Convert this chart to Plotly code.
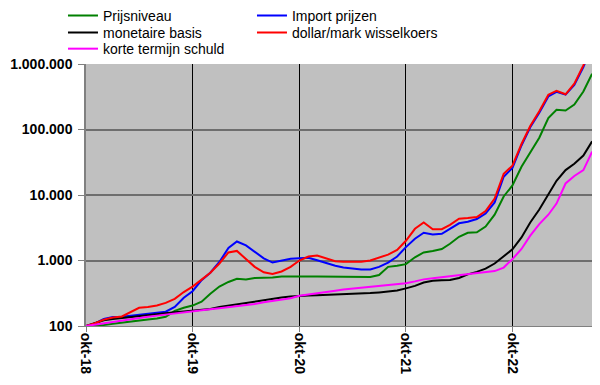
import pandas as pd
import plotly.graph_objects as go

months = pd.date_range("1918-10-01", periods=58, freq="MS")

prijsniveau = [100, 101, 104, 108, 113, 118, 122, 126, 130, 138, 170, 190,
               205, 235, 310, 400, 470, 525, 515, 540, 545, 550, 570, 575,
               570, 570, 570, 570, 570, 560, 560, 560, 560, 600, 800, 830,
               880, 1120, 1330, 1400, 1500, 1800, 2300, 2650, 2700, 3300, 5000, 9500,
               14000, 27000, 45000, 75000, 150000, 200000, 195000, 240000, 380000, 710000]

import_prijzen = [100, 110, 128, 137, 138, 142, 148, 153, 158, 165, 195, 270,
                  340, 500, 650, 950, 1550, 1950, 1700, 1350, 1080, 930, 980, 1060,
                  1080, 1100, 1010, 910, 830, 785, 750, 726, 730, 800, 930, 1150,
                  1600, 2150, 2650, 2500, 2550, 3000, 3700, 3900, 4300, 5200, 7700, 19000,
                  26000, 57000, 108000, 180000, 320000, 375000, 340000, 480000, 900000, 1900000]

monetaire_basis = [100, 112, 122, 128, 133, 137, 142, 147, 152, 157, 162, 166,
                   170, 175, 182, 195, 205, 216, 228, 240, 250, 260, 272, 282,
                   290, 292, 295, 298, 301, 305, 308, 312, 318, 326, 335, 348,
                   375, 410, 460, 490, 500, 505, 540, 615, 670, 750, 900, 1150,
                   1480, 2250, 3800, 6000, 10000, 16500, 24000, 30000, 40000, 66000]

wisselkoers = [100, 110, 125, 135, 140, 160, 190, 195, 205, 225, 260, 330,
               400, 510, 650, 900, 1330, 1400, 1050, 800, 660, 625, 680, 800,
               1000, 1150, 1190, 1080, 975, 960, 960, 960, 1000, 1110, 1230, 1450,
               2000, 3050, 3800, 3000, 3000, 3500, 4350, 4450, 4600, 5700, 8800, 21000,
               28000, 60000, 113000, 190000, 340000, 390000, 345000, 500000, 950000, 2000000]

korte_schuld = [100, 105, 110, 116, 122, 128, 133, 138, 144, 150, 155, 160,
                168, 174, 180, 186, 192, 198, 206, 216, 230, 240, 250, 265,
                290, 305, 318, 332, 345, 360, 372, 385, 398, 410, 425, 440,
                450, 480, 515, 535, 555, 570, 585, 605, 630, 650, 690, 780,
                1050, 1500, 2400, 3600, 5000, 7400, 15000, 19500, 24000, 46000]

# (name, values, colour, legend row)
series = [
    ("Prijsniveau", prijsniveau, "#008000", "legend"),
    ("Import prijzen", import_prijzen, "#0000ff", "legend"),
    ("monetaire basis", monetaire_basis, "#000000", "legend2"),
    ("dollar/mark wisselkoers", wisselkoers, "#ff0000", "legend2"),
    ("korte termijn schuld", korte_schuld, "#ff00ff", "legend3"),
]

x_tickvals = ["1918-10-01", "1919-10-01", "1920-10-01", "1921-10-01", "1922-10-01"]
x_ticktext = ["okt-18", "okt-19", "okt-20", "okt-21", "okt-22"]
y_tickvals = [100, 1000, 10000, 100000, 1000000]
y_ticktext = ["100", "1.000", "10.000", "100.000", "1.000.000"]

fig = go.Figure()
for name, vals, col, lg in series:
    fig.add_trace(go.Scatter(x=months, y=vals, name=name, mode="lines", legend=lg,
                             line=dict(color=col, width=2)))

font = "Arial, Liberation Sans, sans-serif"
legend_common = dict(orientation="h", xanchor="left", yanchor="middle", x=-0.0454,
                     entrywidth=144, font=dict(size=14, family=font),
                     bgcolor="rgba(0,0,0,0)", itemwidth=30)
fig.update_layout(
    width=600, height=385,
    margin=dict(l=78, r=15, t=56, b=67, autoexpand=False),
    paper_bgcolor="white", plot_bgcolor="#c0c0c0",
    font=dict(family=font, size=14, color="black"),
    showlegend=True,
    legend=dict(y=1.184, **legend_common),
    legend2=dict(y=1.119, **legend_common),
    legend3=dict(y=1.057, **legend_common),
    xaxis=dict(type="date", range=["1918-10-01", "1923-07-04"],
               tickvals=x_tickvals, ticktext=x_ticktext, tickangle=90,
               tickfont=dict(size=14, weight="bold", family=font),
               showgrid=True, gridcolor="black", gridwidth=1,
               ticks="outside", ticklen=5, tickcolor="#808080",
               ticklabelstandoff=-2,
               showline=True, linecolor="#808080", linewidth=1, mirror=False,
               zeroline=False, automargin=False),
    yaxis=dict(type="log", range=[2, 6],
               tickvals=y_tickvals, ticktext=y_ticktext,
               tickfont=dict(size=14, weight="bold", family=font),
               showgrid=True, gridcolor="#6e6e6e", gridwidth=1.5,
               ticks="outside", ticklen=6, tickcolor="#808080",
               ticklabelstandoff=3,
               showline=True, linecolor="#808080", linewidth=1.5,
               zeroline=False, automargin=False),
)
fig.write_html("out.html")
